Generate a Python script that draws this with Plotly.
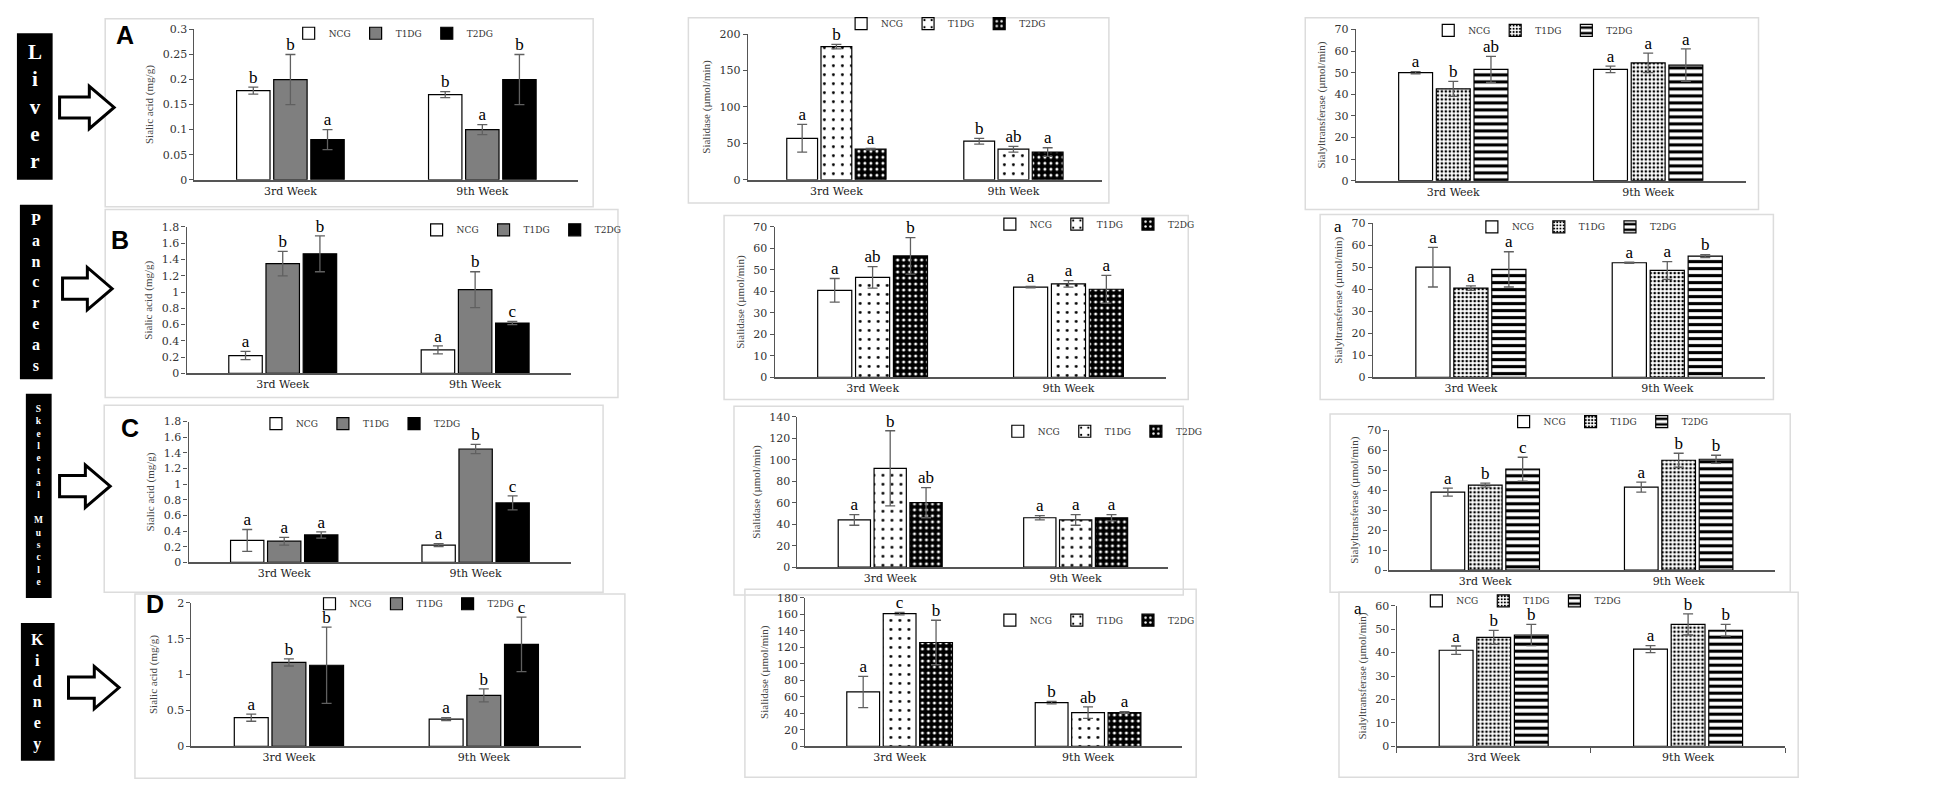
import plotly.graph_objects as go

W, H = 1949, 798

weeks = ["3rd Week", "9th Week"]
groups = ["NCG", "T1DG", "T2DG"]

# each list: NCG, T1DG, T2DG -> [3rd week, 9th week]
# Liver
liver_sa_mean = [[0.178, 0.170], [0.200, 0.100], [0.080, 0.200]]
liver_sa_err = [[0.007, 0.006], [0.050, 0.010], [0.020, 0.050]]
liver_sa_sig = [["b", "b"], ["b", "a"], ["a", "b"]]
liver_sd_mean = [[57, 53], [183, 42], [42, 38]]
liver_sd_err = [[19, 4], [3, 4], [1, 6]]
liver_sd_sig = [["a", "b"], ["b", "ab"], ["a", "a"]]
liver_st_mean = [[50, 51.5], [42.5, 54.5], [51.5, 53.5]]
liver_st_err = [[0.5, 1.5], [3.5, 4.5], [6, 7.5]]
liver_st_sig = [["a", "a"], ["b", "a"], ["ab", "a"]]

# Pancreas
pan_sa_mean = [[0.22, 0.29], [1.35, 1.03], [1.47, 0.62]]
pan_sa_err = [[0.05, 0.05], [0.15, 0.22], [0.22, 0.02]]
pan_sa_sig = [["a", "a"], ["b", "b"], ["b", "c"]]
pan_sd_mean = [[40.5, 42], [46.5, 43.5], [56.5, 41]]
pan_sd_err = [[5.5, 0.3], [5, 1.5], [8.5, 6.5]]
pan_sd_sig = [["a", "a"], ["ab", "a"], ["b", "a"]]
pan_st_mean = [[50, 52], [40.5, 48.5], [49, 55]]
pan_st_err = [[9, 0.3], [1, 4], [8, 0.7]]
pan_st_sig = [["a", "a"], ["a", "a"], ["a", "b"]]

# Skeletal muscle
sk_sa_mean = [[0.28, 0.22], [0.27, 1.45], [0.35, 0.76]]
sk_sa_err = [[0.14, 0.02], [0.05, 0.06], [0.04, 0.09]]
sk_sa_sig = [["a", "a"], ["a", "b"], ["a", "c"]]
sk_sd_mean = [[44, 46], [92, 44], [60, 46]]
sk_sd_err = [[5, 2], [35, 5], [14, 3]]
sk_sd_sig = [["a", "a"], ["b", "a"], ["ab", "a"]]
sk_st_mean = [[39, 41.5], [42.5, 55], [50.5, 55.5]]
sk_st_err = [[2, 2.5], [1, 3.5], [6, 2]]
sk_st_sig = [["a", "a"], ["b", "b"], ["c", "b"]]

# Kidney
kid_sa_mean = [[0.40, 0.38], [1.17, 0.71], [1.13, 1.42]]
kid_sa_err = [[0.05, 0.02], [0.05, 0.09], [0.53, 0.38]]
kid_sa_sig = [["a", "a"], ["b", "b"], ["b", "c"]]
kid_sd_mean = [[66, 53], [161, 41], [126, 41]]
kid_sd_err = [[19, 1.5], [1.5, 7], [27, 1]]
kid_sd_sig = [["a", "b"], ["c", "ab"], ["b", "a"]]
kid_st_mean = [[41, 41.5], [46.5, 52], [47.5, 49.5]]
kid_st_err = [[1.8, 1.5], [3, 4.5], [4.5, 2.5]]
kid_st_sig = [["a", "a"], ["b", "b"], ["b", "b"]]

organs = ["Liver", "Pancreas", "Skeletal Muscle", "Kidney"]
panel_letters = ["A", "B", "C", "D"]


def fx(x):
    return x / W


def fy(y):
    return 1 - y / H


styles = {
    "sa": [
        dict(color="white"),
        dict(color="#7f7f7f"),
        dict(color="black"),
    ],
    "sd": [
        dict(color="white"),
        dict(color="white", pattern=dict(shape=".", fgcolor="black", bgcolor="white",
                                         size=9, solidity=0.08, fillmode="replace")),
        dict(color="black", pattern=dict(shape=".", fgcolor="white", bgcolor="black",
                                         size=6, solidity=0.2, fillmode="replace")),
    ],
    "st": [
        dict(color="white"),
        dict(color="white", pattern=dict(shape=".", fgcolor="black", bgcolor="white",
                                         size=4, solidity=0.35, fillmode="replace")),
        dict(color="white", pattern=dict(shape="-", fgcolor="black", bgcolor="white",
                                         size=7, solidity=0.45, fillmode="replace")),
    ],
}

titles = {"sa": "Sialic acid (mg/g)", "sd": "Sialidase (µmol/min)",
          "st": "Sialyltransferase (µmol/min)"}

# axis box (x0, x1, ytop, ybottom), panel border, legend anchor -- in pixels
panels = [
    dict(mean=liver_sa_mean, err=liver_sa_err, sig=liver_sa_sig, kind="sa", ymax=0.3, dtick=0.05,
         axis=(188, 575, 16, 172), box=(98, 5, 590, 200), leg=(283, 20)),
    dict(mean=liver_sd_mean, err=liver_sd_err, sig=liver_sd_sig, kind="sd", ymax=200, dtick=50,
         axis=(746, 1103, 21, 172), box=(686, 4, 1110, 196), leg=(840, 10)),
    dict(mean=liver_st_mean, err=liver_st_err, sig=liver_st_sig, kind="st", ymax=70, dtick=10,
         axis=(1359, 1752, 16, 173), box=(1308, 4, 1765, 203), leg=(1432, 17)),
    dict(mean=pan_sa_mean, err=pan_sa_err, sig=pan_sa_sig, kind="sa", ymax=1.8, dtick=0.2,
         axis=(180, 568, 221, 373), box=(98, 203, 615, 398), leg=(412, 224)),
    dict(mean=pan_sd_mean, err=pan_sd_err, sig=pan_sd_sig, kind="sd", ymax=70, dtick=10,
         axis=(773, 1168, 221, 377), box=(722, 209, 1190, 400), leg=(990, 218)),
    dict(mean=pan_st_mean, err=pan_st_err, sig=pan_st_sig, kind="st", ymax=70, dtick=10,
         axis=(1376, 1772, 217, 377), box=(1323, 208, 1780, 400), leg=(1476, 221)),
    dict(mean=sk_sa_mean, err=sk_sa_err, sig=sk_sa_sig, kind="sa", ymax=1.8, dtick=0.2,
         axis=(182, 568, 423, 569), box=(97, 406, 600, 600), leg=(250, 425)),
    dict(mean=sk_sd_mean, err=sk_sd_err, sig=sk_sd_sig, kind="sd", ymax=140, dtick=20,
         axis=(796, 1170, 418, 574), box=(732, 407, 1185, 603), leg=(998, 433)),
    dict(mean=sk_st_mean, err=sk_st_err, sig=sk_st_sig, kind="st", ymax=70, dtick=10,
         axis=(1392, 1782, 432, 577), box=(1333, 415, 1797, 600), leg=(1508, 423)),
    dict(mean=kid_sa_mean, err=kid_sa_err, sig=kid_sa_sig, kind="sa", ymax=2, dtick=0.5,
         axis=(185, 578, 611, 760), box=(128, 602, 622, 793), leg=(304, 612)),
    dict(mean=kid_sd_mean, err=kid_sd_err, sig=kid_sd_sig, kind="sd", ymax=180, dtick=20,
         axis=(804, 1184, 606, 760), box=(743, 597, 1198, 792), leg=(990, 629)),
    dict(mean=kid_st_mean, err=kid_st_err, sig=kid_st_sig, kind="st", ymax=60, dtick=10,
         axis=(1400, 1792, 614, 760), box=(1342, 600, 1805, 792), leg=(1420, 609), midtick=True),
]

fig = go.Figure()
layout = {}
shapes = []
annotations = []

for i, p in enumerate(panels):
    n = i + 1
    sfx = "" if n == 1 else str(n)
    leg = "legend" + sfx
    x0, x1, yt, yb = p["axis"]
    for g in range(3):
        fig.add_trace(go.Bar(
            x=weeks, y=p["mean"][g], name=groups[g],
            marker=dict(line=dict(color="black", width=1.2), **styles[p["kind"]][g]),
            error_y=dict(type="data", array=p["err"][g], color="#606060", thickness=1.3, width=5),
            xaxis="x" + sfx, yaxis="y" + sfx, legend=leg, offsetgroup=str(g),
        ))
        fig.add_trace(go.Scatter(
            x=weeks, y=[m + e for m, e in zip(p["mean"][g], p["err"][g])],
            text=p["sig"][g], mode="text", textposition="top center",
            textfont=dict(family="Liberation Serif", size=17, color="black"),
            xaxis="x" + sfx, yaxis="y" + sfx, offsetgroup=str(g),
            showlegend=False, cliponaxis=False, hoverinfo="skip",
        ))
    xaxis = dict(
        domain=[fx(x0), fx(x1)], anchor="y" + sfx, type="category",
        showline=True, linecolor="#555", linewidth=1.5, ticks="",
        tickfont=dict(family="DejaVu Serif", size=11, color="#222"),
    )
    if p.get("midtick"):
        xaxis.update(ticks="outside", tickson="boundaries", ticklen=5, tickcolor="#555")
    layout["xaxis" + sfx] = xaxis
    layout["yaxis" + sfx] = dict(
        domain=[fy(yb), fy(yt)], anchor="x" + sfx, range=[0, p["ymax"]],
        tick0=0, dtick=p["dtick"], showline=True, linecolor="#555", linewidth=1.2,
        ticks="outside", ticklen=4, tickcolor="#555", showgrid=False, zeroline=False,
        tickfont=dict(family="DejaVu Serif", size=11, color="#333"),
        title=dict(text=titles[p["kind"]], font=dict(family="Liberation Serif", size=11, color="#444"),
                   standoff=6),
    )
    lx, ly = p["leg"]
    layout[leg] = dict(
        x=fx(lx), y=fy(ly), xanchor="left", yanchor="middle", orientation="h",
        font=dict(family="DejaVu Serif", size=9, color="#333"),
        bgcolor="rgba(0,0,0,0)", itemwidth=30, tracegroupgap=0,
    )
    bx0, by0, bx1, by1 = p["box"]
    shapes.append(dict(type="rect", xref="paper", yref="paper", layer="below",
                       x0=fx(bx0), x1=fx(bx1), y0=fy(by1), y1=fy(by0),
                       line=dict(color="#dcdcdc", width=1.5)))

# panel letters
for letter, (x, y) in zip(panel_letters, [(118, 22), (113, 235), (123, 430), (148, 612)]):
    annotations.append(dict(text=letter, x=fx(x), y=fy(y), xref="paper", yref="paper",
                            xanchor="center", yanchor="middle", showarrow=False,
                            font=dict(family="Liberation Sans", size=25, color="black", weight="bold")))

# stray letters beside the top tick
for x, y in [(1341, 220), (1361, 617)]:
    annotations.append(dict(text="a", x=fx(x), y=fy(y), xref="paper", yref="paper",
                            xanchor="center", yanchor="middle", showarrow=False,
                            font=dict(family="Liberation Serif", size=17, color="black")))

# organ label boxes
label_boxes = [(9, 20, 45, 172, 21), (12, 198, 45, 379, 16), (18, 394, 44, 606, 9.5), (13, 632, 47, 775, 16)]
for organ, (bx0, by0, bx1, by1, fs) in zip(organs, label_boxes):
    shapes.append(dict(type="rect", xref="paper", yref="paper", x0=fx(bx0), x1=fx(bx1),
                       y0=fy(by1), y1=fy(by0), fillcolor="black", line=dict(width=0)))
    annotations.append(dict(text="<br>".join(organ), x=fx((bx0 + bx1) / 2),
                            y=fy((by0 + by1) / 2), xref="paper", yref="paper", showarrow=False,
                            xanchor="center", yanchor="middle", align="center",
                            font=dict(family="Liberation Serif", size=fs, color="white", weight="bold")))

# hollow arrows pointing at the panels
for ax0, ax1, yc in [(52, 107, 97), (55, 105, 285), (52, 103, 490), (61, 112, 699)]:
    xh = ax1 - 25
    pts = [(ax0, yc - 11), (xh, yc - 11), (xh, yc - 22), (ax1, yc), (xh, yc + 22), (xh, yc + 11), (ax0, yc + 11)]
    path = "M " + " L ".join(f"{fx(a):.5f},{fy(b):.5f}" for a, b in pts) + " Z"
    shapes.append(dict(type="path", xref="paper", yref="paper", path=path,
                       fillcolor="white", line=dict(color="black", width=3)))

fig.update_layout(
    **layout,
    shapes=shapes, annotations=annotations,
    barmode="group", bargap=0.42, bargroupgap=0.1, scattermode="group",
    margin=dict(l=0, r=0, t=0, b=0),
    paper_bgcolor="white", plot_bgcolor="white",
    font=dict(family="DejaVu Serif"),
)

fig.write_html("out.html")
